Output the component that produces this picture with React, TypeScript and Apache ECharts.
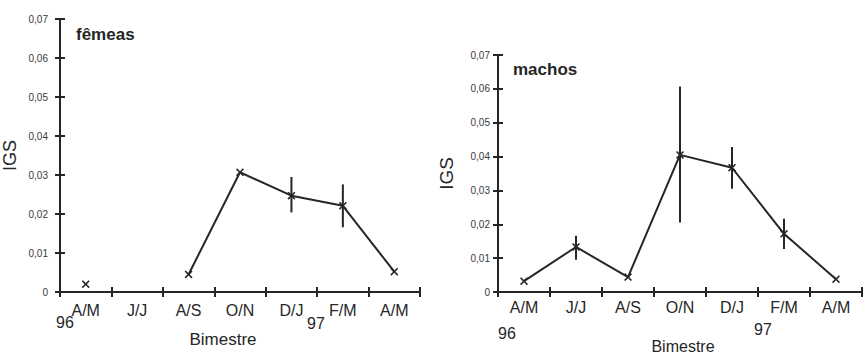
import React, { useEffect, useRef } from "react";
import * as echarts from "echarts";

const categories = ["A/M", "J/J", "A/S", "O/N", "D/J", "F/M", "A/M"];
const yTicks = [0, 0.01, 0.02, 0.03, 0.04, 0.05, 0.06, 0.07];
const femeas: (number | null)[] = [0.002, null, 0.0045, 0.0307, 0.0247, 0.0221, 0.0052];
const femeasErr: [number, number, number][] = [
  [4, 0.0204, 0.0295],
  [5, 0.0166, 0.0276],
];
const machos: number[] = [0.0032, 0.0133, 0.0044, 0.0405, 0.0367, 0.0172, 0.0038];
const machosErr: [number, number, number][] = [
  [1, 0.0095, 0.0166],
  [3, 0.0205, 0.0607],
  [4, 0.0305, 0.0428],
  [5, 0.0127, 0.0216],
];

const FONT = "'Liberation Sans', Arial, sans-serif";
const INK = "#262626";
const XSYM =
  "path://M0,1.4L1.4,0L5,3.6L8.6,0L10,1.4L6.4,5L10,8.6L8.6,10L5,6.4L1.4,10L0,8.6L3.6,5Z";

const fmt = (v: number) => (v === 0 ? "0" : v.toFixed(2).replace(".", ","));

function xAxisPair(grid: number, labelMargin: number, labelSize: number) {
  const base = {
    type: "category",
    gridIndex: grid,
    data: categories,
    boundaryGap: true,
    position: "bottom",
  };
  return [
    {
      ...base,
      axisLine: { show: true, lineStyle: { color: INK, width: 2 } },
      axisTick: { show: true, length: 5, interval: 0, lineStyle: { color: INK, width: 2 } },
      axisLabel: {
        show: true,
        interval: 0,
        margin: labelMargin,
        fontSize: labelSize,
        fontFamily: FONT,
        color: INK,
      },
      splitLine: { show: false },
    },
    {
      ...base,
      axisLine: { show: false },
      axisTick: { show: true, inside: true, length: 5, interval: 0, lineStyle: { color: INK, width: 2 } },
      axisLabel: { show: false },
      splitLine: { show: false },
    },
  ];
}

function yAxisPair(grid: number, labelMargin: number, labelSize: number) {
  const base = {
    type: "value",
    gridIndex: grid,
    min: yTicks[0],
    max: yTicks[yTicks.length - 1],
    interval: 0.01,
    position: "left",
  };
  return [
    {
      ...base,
      axisLine: { show: true, lineStyle: { color: INK, width: 2 } },
      axisTick: { show: true, length: 5, lineStyle: { color: INK, width: 2 } },
      axisLabel: {
        show: true,
        margin: labelMargin,
        fontSize: labelSize,
        fontFamily: FONT,
        color: "#3a3a3a",
        formatter: fmt,
      },
      splitLine: { show: false },
    },
    {
      ...base,
      axisLine: { show: false },
      axisTick: { show: true, inside: true, length: 5, lineStyle: { color: INK, width: 2 } },
      axisLabel: { show: false },
      splitLine: { show: false },
    },
  ];
}

const errRender = (_params: any, api: any) => {
  const x = api.value(0);
  const lo = api.coord([x, api.value(1)]);
  const hi = api.coord([x, api.value(2)]);
  return {
    type: "line",
    shape: { x1: lo[0], y1: lo[1], x2: hi[0], y2: hi[1] },
    style: { stroke: INK, lineWidth: 2 },
  };
};

function txt(text: string, x: number, y: number, size: number, bold = false, align = "center") {
  return {
    type: "text",
    x,
    y,
    style: {
      text,
      fontSize: size,
      fontFamily: FONT,
      fontWeight: bold ? "bold" : "normal",
      fill: INK,
      align,
      verticalAlign: "middle",
    },
  };
}

export default function App() {
  const ref = useRef<HTMLDivElement>(null);
  useEffect(() => {
    if (!ref.current) return;
    const chart = echarts.init(ref.current, null, { renderer: "svg" });
    const [lx, lxi] = xAxisPair(0, 10, 16);
    const [rx, rxi] = xAxisPair(1, 7, 16);
    const [ly, lyi] = yAxisPair(0, 12, 10);
    const [ry, ryi] = yAxisPair(1, 8, 10);
    chart.setOption({
      animation: false,
      backgroundColor: "#ffffff",
      grid: [
        { left: 60, top: 19, width: 360, height: 273 },
        { left: 498, top: 55, width: 364, height: 237 },
      ],
      xAxis: [lx, rx, lxi, rxi],
      yAxis: [
        {
          ...ly,
          name: "IGS",
          nameLocation: "middle",
          nameRotate: 90,
          nameGap: 41,
          nameTextStyle: { fontSize: 18, fontFamily: FONT, color: INK },
        },
        {
          ...ry,
          name: "IGS",
          nameLocation: "middle",
          nameRotate: 90,
          nameGap: 42,
          nameTextStyle: { fontSize: 19, fontFamily: FONT, color: INK },
        },
        lyi,
        ryi,
      ],
      graphic: [
        txt("fêmeas", 76, 34, 17, true, "left"),
        txt("machos", 513, 69, 17, true, "left"),
        txt("96", 65, 322, 16),
        txt("97", 316, 323, 16),
        txt("Bimestre", 223, 339, 17),
        txt("96", 507, 333, 16),
        txt("97", 763, 329, 16),
        txt("Bimestre", 683, 346, 16),
      ],
      series: [
        {
          type: "line",
          xAxisIndex: 0,
          yAxisIndex: 0,
          data: femeas,
          connectNulls: false,
          symbol: XSYM,
          symbolSize: 8,
          showAllSymbol: true,
          lineStyle: { color: INK, width: 2 },
          itemStyle: { color: INK },
        },
        {
          type: "custom",
          xAxisIndex: 0,
          yAxisIndex: 0,
          data: femeasErr,
          renderItem: errRender,
        },
        {
          type: "line",
          xAxisIndex: 1,
          yAxisIndex: 1,
          data: machos,
          symbol: XSYM,
          symbolSize: 8,
          showAllSymbol: true,
          lineStyle: { color: INK, width: 2 },
          itemStyle: { color: INK },
        },
        {
          type: "custom",
          xAxisIndex: 1,
          yAxisIndex: 1,
          data: machosErr,
          renderItem: errRender,
        },
      ],
    });
    return () => chart.dispose();
  }, []);
  return (
    <div
      ref={ref}
      style={{ position: "absolute", left: 0, top: 0, width: 863, height: 355, background: "#fff" }}
    />
  );
}
